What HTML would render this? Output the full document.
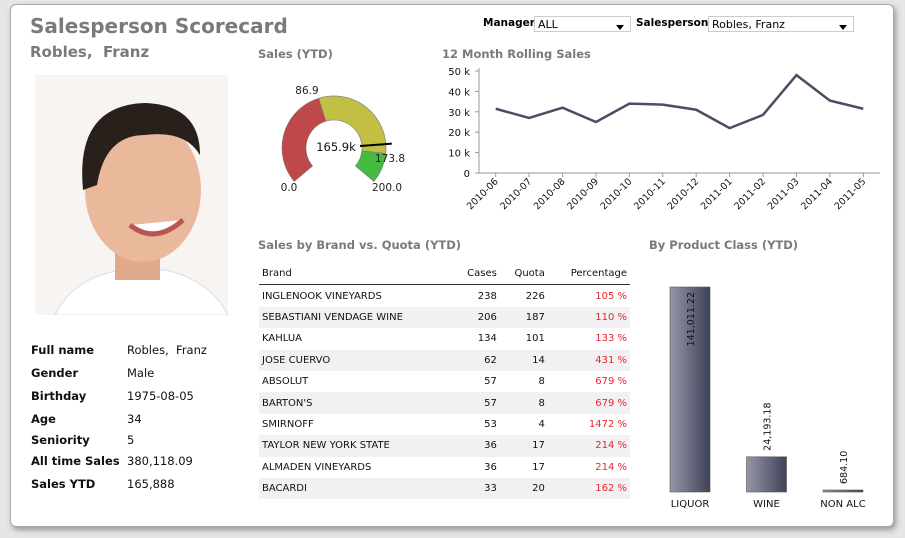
<!DOCTYPE html>
<html><head><meta charset="utf-8">
<style>
body{margin:0;width:905px;height:538px;background:#e6e6e6;font-family:"DejaVu Sans","Liberation Sans",sans-serif;overflow:hidden;position:relative}
.card{position:absolute;left:10px;top:4px;width:882px;height:521px;background:#fff;border:1px solid #aaa;border-radius:6px;box-shadow:2px 3px 6px #999}
.abs{position:absolute}
.t{color:#7a7a7a;font-weight:bold}
.info td{font-size:11.5px;color:#111;height:23px;padding:0;white-space:nowrap}
.info td.k{font-weight:bold;width:96px}
.sel{position:absolute;height:16px;border:1px solid #ccc;font-size:11px;line-height:16px;padding-left:3px;box-sizing:border-box;background:#fff}
.sel:after{content:"";position:absolute;right:6px;top:8px;border:4px solid transparent;border-top:5px solid #000}
table.br{border-collapse:collapse;font-size:10px;color:#111}
table.br td{height:21.4px;padding:0 3px;white-space:nowrap}
table.br tr:nth-child(odd) td{background:#f1f0f2}
</style></head><body>
<div class="card"></div>
<div class="abs t" style="left:30px;top:14px;font-size:20px">Salesperson Scorecard</div>
<div class="abs t" style="left:30px;top:43px;font-size:15px">Robles,&nbsp; Franz</div>

<div class="abs" style="left:483px;top:17px;font-size:10.5px;font-weight:bold">Manager</div>
<div class="sel" style="left:534px;top:16px;width:97px">ALL</div>
<div class="abs" style="left:636px;top:17px;font-size:10.5px;font-weight:bold">Salesperson</div>
<div class="sel" style="left:708px;top:16px;width:146px">Robles, Franz</div>

<svg class="abs" style="left:35px;top:75px" width="193" height="240">
<rect width="193" height="240" fill="#f7f4f2"/>
<path d="M20 240 Q40 200 90 195 L130 195 Q175 205 193 240Z" fill="#fff" stroke="#ddd"/>
<rect x="80" y="160" width="45" height="45" fill="#e0a98c"/>
<ellipse cx="108" cy="115" rx="58" ry="72" fill="#eab89a"/>
<path d="M48 115 Q40 30 110 28 Q165 30 165 80 Q150 55 110 60 Q70 60 62 110Z" fill="#2a201b"/>
<path d="M95 150 Q120 170 148 145" stroke="#b55" stroke-width="5" fill="#fff"/>
</svg>

<table class="info abs" style="left:31px;top:338px;border-collapse:collapse">
<tr><td class="k">Full name</td><td>Robles,&nbsp; Franz</td></tr>
<tr><td class="k">Gender</td><td>Male</td></tr>
<tr><td class="k">Birthday</td><td>1975-08-05</td></tr>
<tr><td class="k">Age</td><td>34</td></tr>
<tr><td class="k" style="height:19px">Seniority</td><td style="height:19px">5</td></tr>
<tr><td class="k">All time Sales</td><td>380,118.09</td></tr>
<tr><td class="k">Sales YTD</td><td>165,888</td></tr>
</table>

<div class="abs t" style="left:258px;top:47px;font-size:11.5px">Sales (YTD)</div>
<div class="abs t" style="left:442px;top:47px;font-size:11.5px">12 Month Rolling Sales</div>
<div class="abs t" style="left:258px;top:238px;font-size:11.5px">Sales by Brand vs. Quota (YTD)</div>
<div class="abs t" style="left:649px;top:238px;font-size:11.5px">By Product Class (YTD)</div>

<svg id="gauge" class="abs" style="left:0;top:0" width="905" height="538" pointer-events="none"></svg>

<table class="br abs" style="left:259px;top:263px;width:371px">
<tbody id="tb"><tr style="border-bottom:1px solid #333"><td style="background:#fff;height:18px">Brand</td><td style="background:#fff;text-align:right">Cases</td><td style="background:#fff;text-align:right">Quota</td><td style="background:#fff;text-align:right">Percentage</td></tr></tbody>
</table>

<script>
const NS="http://www.w3.org/2000/svg";
const svg=document.getElementById('gauge');
function mk(t,a,txt){const e=document.createElementNS(NS,t);for(const k in a)e.setAttribute(k,a[k]);if(txt!=null)e.textContent=txt;svg.appendChild(e);return e;}

// Gauge data
const gaugeMin=0, gaugeMax=200, gaugeValue=165.9;
const bandStops=[0,86.9,173.8,200];
const bandColors=['#c0474a','#c2bf45','#45bb3f'];
const gcx=334,gcy=148,rO=52,rI=28;
function ang(v){return (-130+260*(v-gaugeMin)/(gaugeMax-gaugeMin))*Math.PI/180;}
function pt(r,a){return [gcx+r*Math.sin(a),gcy-r*Math.cos(a)];}
for(let i=0;i<3;i++){
 const a0=ang(bandStops[i]),a1=ang(bandStops[i+1]);const lg=(a1-a0)>Math.PI?1:0;
 const p1=pt(rO,a0),p2=pt(rO,a1),p3=pt(rI,a1),p4=pt(rI,a0);
 const p=mk('path',{d:`M${p1}A${rO},${rO} 0 ${lg} 1 ${p2}L${p3}A${rI},${rI} 0 ${lg} 0 ${p4}Z`,fill:bandColors[i],stroke:'#777','stroke-width':0.6});
 
 
}
{const a=ang(gaugeValue);const p1=pt(rI-2,a),p2=pt(rO+6,a);
 const n=mk('line',{x1:p1[0],y1:p1[1],x2:p2[0],y2:p2[1],stroke:'#000','stroke-width':2});
 
 
 const t=mk('text',{x:gcx+2,y:gcy+3,'font-size':11.5,'text-anchor':'middle',fill:'#111'},(gaugeValue).toFixed(1)+'k');
 
 }
[[86.9,307,94,'86.9'],[173.8,390,162,'173.8'],[0,289,191,'0.0'],[200,387,191,'200.0']].forEach(d=>{
 const t=mk('text',{x:d[1],y:d[2],'font-size':10.5,'text-anchor':'middle',fill:'#222'},d[3]);
 
 });

// Line chart data
const months=['2010-06','2010-07','2010-08','2010-09','2010-10','2010-11','2010-12','2011-01','2011-02','2011-03','2011-04','2011-05'];
const rollingSales=[31.5,27,32,25,34,33.5,31,22,28.5,48,35.5,31.5];
const yTicks=[0,10,20,30,40,50];
const yTickLabels=['0','10 k','20 k','30 k','40 k','50 k'];
const lx0=479,lx1=880,ly0=173,ly1=71;
const X=i=>lx0+(lx1-lx0)*(i+0.5)/months.length;
const Y=v=>ly0-(ly0-ly1)*v/50;
mk('line',{x1:lx0,y1:ly1-3,x2:lx0,y2:ly0,stroke:'#999'});
mk('line',{x1:lx0,y1:ly0,x2:lx1,y2:ly0,stroke:'#999'});
yTicks.forEach((v,i)=>{const t=mk('text',{x:470,y:Y(v)+4,'font-size':10,'text-anchor':'end',fill:'#111'},yTickLabels[i]);
 
 
 mk('line',{x1:lx0-4,y1:Y(v),x2:lx0,y2:Y(v),stroke:'#999'});});
months.forEach((m,i)=>{const t=mk('text',{x:X(i)+3,y:182,'font-size':9.5,'text-anchor':'end',fill:'#111',transform:`rotate(-45 ${X(i)+3} 182)`},m);
 
 
 mk('line',{x1:X(i),y1:ly0,x2:X(i),y2:ly0+4,stroke:'#999'});});
const ln=mk('polyline',{points:rollingSales.map((v,i)=>X(i)+','+Y(v)).join(' '),fill:'none',stroke:'#4a4e64','stroke-width':2.5});



// Bar chart data
const classes=['LIQUOR','WINE','NON ALC'];
const classSales=[141011.22,24193.18,684.10];
const classLabels=['141,011.22','24,193.18','684.10'];
const defs=mk('defs',{});
defs.innerHTML='<linearGradient id="bg" x1="0" x2="1"><stop offset="0" stop-color="#9597a8"/><stop offset="1" stop-color="#3f4258"/></linearGradient>';
const bBase=492,bTop=287,bw=40;
const BX=i=>670+i*76.5;
const BH=v=>(bBase-bTop)*v/141011.22;
classes.forEach((c,i)=>{const h=Math.max(BH(classSales[i]),2);
 const r=mk('rect',{x:BX(i),y:bBase-h,width:bw,height:h,fill:'url(#bg)',stroke:'#555','stroke-width':0.6});
 
 
 const t=mk('text',{x:BX(i)+bw/2,y:bBase+15,'font-size':10,'text-anchor':'middle',fill:'#111'},c);
 
 
 const inside=h>100;const ly=inside?bBase-h+5:bBase-h-6;
 const vt=mk('text',{x:0,y:0,'font-size':9.5,'text-anchor':inside?'end':'start',fill:'#111',transform:`translate(${BX(i)+bw/2+4},${ly}) rotate(-90)`},classLabels[i]);
 
 });

// Table data
const brands=['INGLENOOK VINEYARDS','SEBASTIANI VENDAGE WINE','KAHLUA','JOSE CUERVO','ABSOLUT',"BARTON'S",'SMIRNOFF','TAYLOR NEW YORK STATE','ALMADEN VINEYARDS','BACARDI'];
const cases=[238,206,134,62,57,57,53,36,36,33];
const quotas=[226,187,101,14,8,8,4,17,17,20];
const pcts=['105 %','110 %','133 %','431 %','679 %','679 %','1472 %','214 %','214 %','162 %'];
const tb=document.getElementById('tb');
brands.forEach((b,i)=>{const tr=document.createElement('tr');
 
 
 tr.innerHTML=`<td>${b}</td><td style="text-align:right">${cases[i]}</td><td style="text-align:right">${quotas[i]}</td><td style="text-align:right;color:#e8262b">${pcts[i]}</td>`;
 tb.appendChild(tr);});
</script>
</body></html>
